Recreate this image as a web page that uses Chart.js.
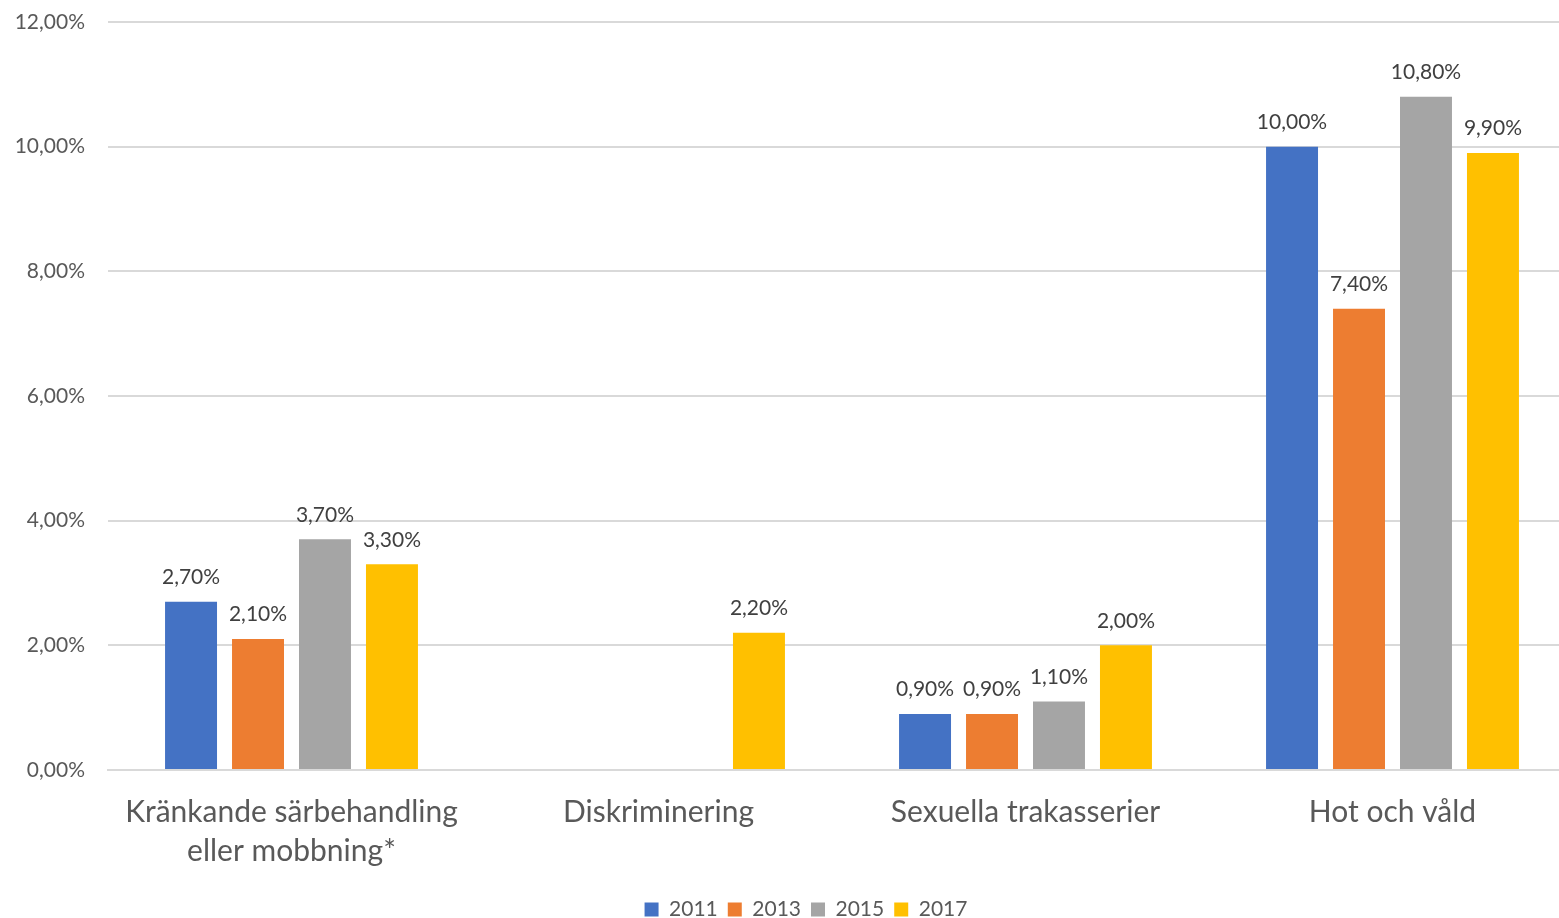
<!DOCTYPE html>
<html>
<head>
<meta charset="utf-8">
<script src="https://cdn.jsdelivr.net/npm/chart.js@4"></script>
<style>
  html, body { margin: 0; padding: 0; background: #fff; overflow: hidden; }
  #wrap { width: 1576px; height: 918px; }
</style>
</head>
<body>
<div id="wrap"><canvas id="chart"></canvas></div>
<script>
const categories = [
    ['Kränkande särbehandling', 'eller mobbning*'],
    'Diskriminering',
    'Sexuella trakasserier',
    'Hot och våld'
];
const years = ['2011', '2013', '2015', '2017'];
const values2011 = [2.7, null, 0.9, 10.0];
const values2013 = [2.1, null, 0.9, 7.4];
const values2015 = [3.7, null, 1.1, 10.8];
const values2017 = [3.3, 2.2, 2.0, 9.9];
const colors = ['#4472c4', '#ed7d31', '#a5a5a5', '#ffc000'];

const fmt = v => v.toFixed(2).replace('.', ',') + '%';

// value labels above each bar
const barLabels = {
    id: 'barLabels',
    afterDatasetsDraw(chart) {
        const ctx = chart.ctx;
        ctx.save();
        ctx.font = '21px Lato';
        ctx.fillStyle = '#404040';
        ctx.textAlign = 'center';
        ctx.textBaseline = 'bottom';
        chart.data.datasets.forEach((ds, i) => {
            chart.getDatasetMeta(i).data.forEach((bar, j) => {
                const v = ds.data[j];
                if (v === null) return;
                ctx.fillText(fmt(v), bar.x, bar.y - 14);
            });
        });
        ctx.restore();
    }
};

// nudge the legend a bit to the right, like the original
const legendShift = {
    id: 'legendShift',
    afterLayout(chart) {
        chart.legend.left += 18;
        chart.legend.right += 18;
    }
};

const allSeries = [values2011, values2013, values2015, values2017];

new Chart(document.getElementById('chart'), {
    type: 'bar',
    data: {
        labels: categories,
        datasets: years.map((y, i) => ({
            label: y,
            data: allSeries[i],
            backgroundColor: colors[i],
            categoryPercentage: 0.73,
            barPercentage: 0.776
        }))
    },
    options: {
        responsive: true,
        maintainAspectRatio: false,
        animation: false,
        layout: { padding: { top: 22, right: 0, bottom: -12, left: 0 } },
        plugins: {
            legend: {
                position: 'bottom',
                labels: {
                    font: { family: 'Lato', size: 21 },
                    color: '#595959',
                    boxWidth: 14,
                    boxHeight: 14,
                    padding: 10
                }
            },
            tooltip: { enabled: false }
        },
        scales: {
            x: {
                grid: { display: false },
                border: { color: '#d9d9d9', width: 2 },
                afterFit: s => { s.height = 119; },
                ticks: {
                    font: { family: 'Lato', size: 30, lineHeight: 1.3 },
                    color: '#595959',
                    padding: 15
                }
            },
            y: {
                min: 0,
                max: 12,
                afterFit: s => {
                    s.width = 108;
                    s.paddingTop = 0;
                    s.paddingBottom = 0;
                },
                grid: { color: '#d9d9d9', lineWidth: 2, drawTicks: false },
                border: { display: false },
                ticks: {
                    stepSize: 2,
                    font: { family: 'Lato', size: 21 },
                    color: '#595959',
                    padding: 23,
                    callback: v => fmt(v)
                }
            }
        }
    },
    plugins: [barLabels, legendShift]
});
</script>
</body>
</html>
